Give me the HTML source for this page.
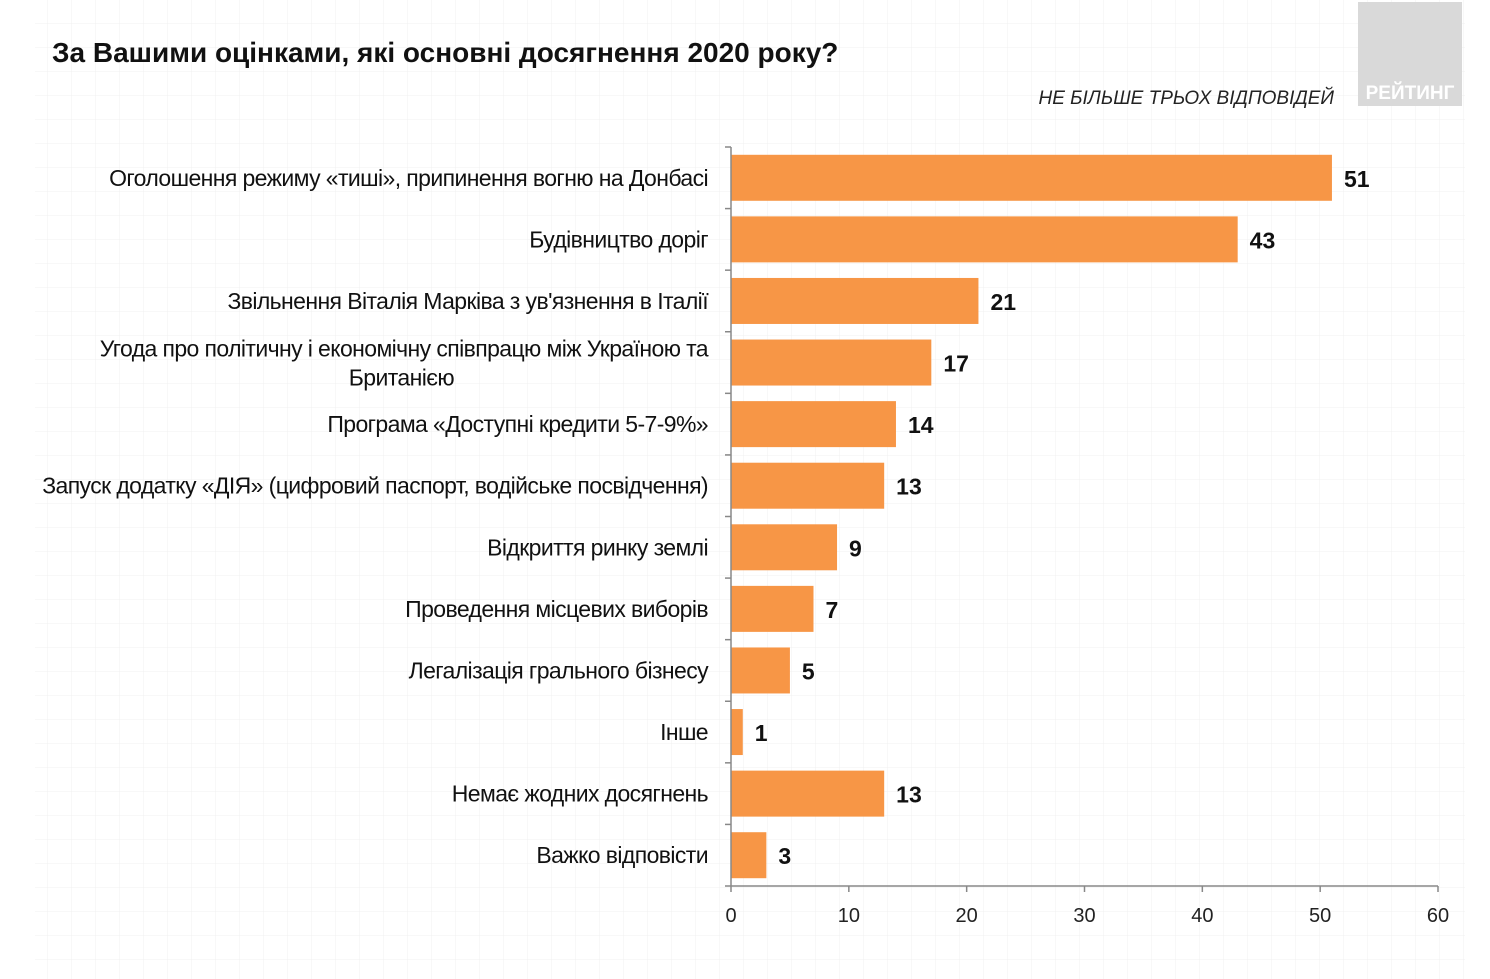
<!DOCTYPE html>
<html><head><meta charset="utf-8"><style>
body{margin:0;background:#fff;}
svg{display:block;font-family:"Liberation Sans",sans-serif;}
</style></head><body>
<svg width="1490" height="979" viewBox="0 0 1490 979">
<defs><pattern id="g" width="24" height="24" patternUnits="userSpaceOnUse"><path d="M24 0V24H0" fill="none" stroke="#f1f1f1" stroke-width="1"/></pattern></defs>
<rect x="35" y="0" width="1430" height="979" fill="url(#g)"/>
<text x="52" y="62" font-size="28" font-weight="bold" fill="#111">За Вашими оцінками, які основні досягнення 2020 року?</text>
<text x="1334" y="104" font-size="19" font-style="italic" text-anchor="end" fill="#222">НЕ БІЛЬШЕ ТРЬОХ ВІДПОВІДЕЙ</text>
<g>
<rect x="1358" y="2" width="104" height="104" fill="#d9d9d9"/>
<text x="1410" y="99" font-size="19" font-weight="bold" fill="#fff" text-anchor="middle">РЕЙТИНГ</text>
</g>
<g id="plot"></g>
</svg>
<script>
const categories=["Оголошення режиму «тиші», припинення вогню на Донбасі","Будівництво доріг","Звільнення Віталія Марківа з ув'язнення в Італії","Угода про політичну і економічну співпрацю між Україною та|Британією","Програма «Доступні кредити 5-7-9%»","Запуск  додатку «ДІЯ» (цифровий паспорт, водійське посвідчення)","Відкриття ринку землі","Проведення місцевих виборів","Легалізація грального бізнесу","Інше","Немає жодних досягнень","Важко відповісти"];
const values=[51,43,21,17,14,13,9,7,5,1,13,3];
const ticks=[0,10,20,30,40,50,60];
const NS="http://www.w3.org/2000/svg";
const plotG=document.getElementById('plot');
const x0=731,x1=1438,yTop=147,yBot=886;
const step=(yBot-yTop)/categories.length;
const xs=v=>x0+(x1-x0)*v/60;
function mk(t,a,txt){const e=document.createElementNS(NS,t);for(const k in a)e.setAttribute(k,a[k]);if(txt!=null)e.textContent=txt;plotG.appendChild(e);return e;}
categories.forEach((c,i)=>{
 const cy=yTop+step*(i+0.5);
 const r=mk('rect',{x:x0,y:cy-23,width:xs(values[i])-x0,height:46,fill:'#F79646'});
 
 
 const v=mk('text',{x:xs(values[i])+12,y:cy+9,'font-size':23,'font-weight':'bold',fill:'#111'},values[i]);
 
 
 const parts=c.split('|');
 parts.forEach((p,j)=>{
  const yy=parts.length>1?cy-6+j*29:cy+8;
  const t=mk('text',{x:parts.length>1&&j==1?454:708,y:yy,'font-size':23,'text-anchor':'end',fill:'#111','letter-spacing':'-0.6'},p);
  
  
 });
 const tk=mk('line',{x1:x0-6,x2:x0,y1:yTop+step*i,y2:yTop+step*i,stroke:'#888','stroke-width':1.5});
 
 
});
const ya=mk('line',{x1:x0,x2:x0,y1:yTop,y2:yBot,stroke:'#888','stroke-width':1.5});


const xa=mk('line',{x1:x0-6,x2:x1,y1:yBot,y2:yBot,stroke:'#888','stroke-width':1.5});


ticks.forEach(t=>{
 const l=mk('line',{x1:xs(t),x2:xs(t),y1:yBot,y2:yBot+6,stroke:'#888','stroke-width':1.5});
 
 
 const tx=mk('text',{x:xs(t),y:yBot+36,'font-size':20,'text-anchor':'middle',fill:'#222'},t);
 
 
});
</script>
</body></html>
